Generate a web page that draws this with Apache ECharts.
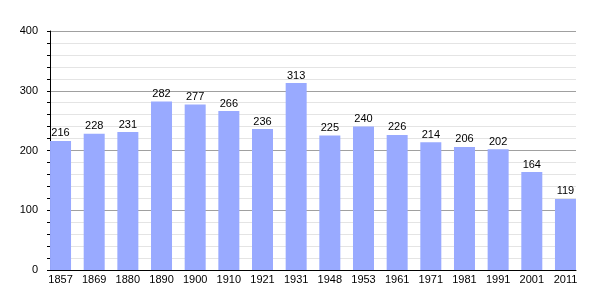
<!DOCTYPE html>
<html><head><meta charset="utf-8">
<script src="https://cdn.jsdelivr.net/npm/echarts@6/dist/echarts.min.js"></script>
<style>html,body{margin:0;padding:0;background:#fff}#c{width:605px;height:300px}</style>
</head><body><div id="c"></div>
<script>
const years = ['1857','1869','1880','1890','1900','1910','1921','1931','1948','1953','1961','1971','1981','1991','2001','2011'];
const population = [216,228,231,282,277,266,236,313,225,240,226,214,206,202,164,119];
const yTicks = [0,100,200,300,400];

const font = 'Liberation Sans, Arial, sans-serif';
const chart = echarts.init(document.getElementById('c'), null, {renderer:'canvas'});
chart.setOption({
  animation:false,
  grid:[
    {left:50, right:29, top:31, bottom:30},
    {left:43.7, right:22.7, top:31, bottom:30}
  ],
  xAxis:[
    {gridIndex:0, type:'category', data:years, boundaryGap:false,
     axisLine:{show:true, lineStyle:{color:'#000', width:1}}, axisTick:{show:false}, axisLabel:{show:false}, splitLine:{show:false}},
    {gridIndex:1, type:'category', data:years,
     axisLine:{show:false}, axisTick:{show:false},
     axisLabel:{color:'#000', fontSize:11, fontFamily:font, margin:4, interval:0}}
  ],
  yAxis:[
    {gridIndex:0, type:'value', min:yTicks[0], max:yTicks[yTicks.length-1], interval:100,
     axisLine:{show:true, lineStyle:{color:'#000'}},
     axisTick:{show:true, length:3, lineStyle:{color:'#000'}},
     minorTick:{show:true, splitNumber:5, length:3, lineStyle:{color:'#000'}},
     axisLabel:{color:'#000', fontSize:11, fontFamily:font, margin:12},
     splitLine:{show:true, lineStyle:{color:'#a0a0a0', width:1}},
     minorSplitLine:{show:true, lineStyle:{color:'#e4e4e4', width:1}}},
    {gridIndex:1, type:'value', min:0, max:400, interval:100, show:false}
  ],
  series:[{
    type:'bar', xAxisIndex:1, yAxisIndex:1, data:population, barWidth:21,
    itemStyle:{color:'#99aaff'},
    label:{show:true, position:'top', distance:2, color:'#000', fontSize:11, fontFamily:font}
  }]
});
</script></body></html>
